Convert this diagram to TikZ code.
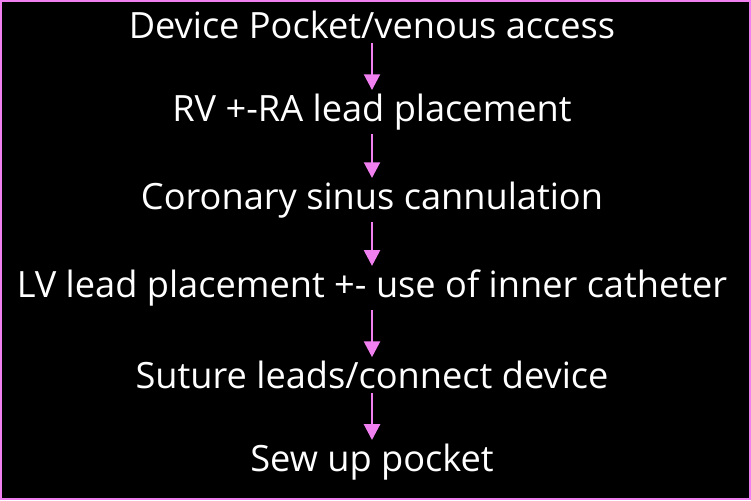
\documentclass[tikz,border=0pt]{standalone}
\usepackage{fontspec}
\setmainfont{Open Sans}
\usetikzlibrary{arrows.meta}
\definecolor{stepPink}{HTML}{F080F0}
\tikzset{
    stepText/.style={text=white, font=\fontsize{20.6}{24}\selectfont, inner sep=1pt},
    stepArrow/.style={draw=stepPink, line width=1.6pt, -{Triangle[width=9pt,length=9pt]}, shorten <=1pt, shorten >=1pt}
}
\begin{document}
\begin{tikzpicture}[x=0.02cm, y=-0.02cm]
    \fill[black] (0,0) rectangle (751,500);
    \draw[stepPink, line width=1.2pt] (1,1) rectangle (750,499);
    \useasboundingbox (0,0) rectangle (751,500);
    % Steps
    \node [stepText] (pocket) at (372,25) {Device Pocket/venous access};
    \node [stepText] (rvra) at (372,112) {RV +-RA lead placement};
    \node [stepText] (sinus) at (372,200) {Coronary sinus cannulation};
    \node [stepText] (lvlead) at (372,288) {LV lead placement +- use of inner catheter};
    \node [stepText] (suture) at (372,375) {Suture leads/connect device};
    \node [stepText] (sewup) at (372,462) {Sew up pocket};
    % Arrows
    \foreach \a/\b in {pocket/rvra, rvra/sinus, sinus/lvlead, lvlead/suture, suture/sewup}
        \draw [stepArrow] (\a) -- (\b);
\end{tikzpicture}
\end{document}
